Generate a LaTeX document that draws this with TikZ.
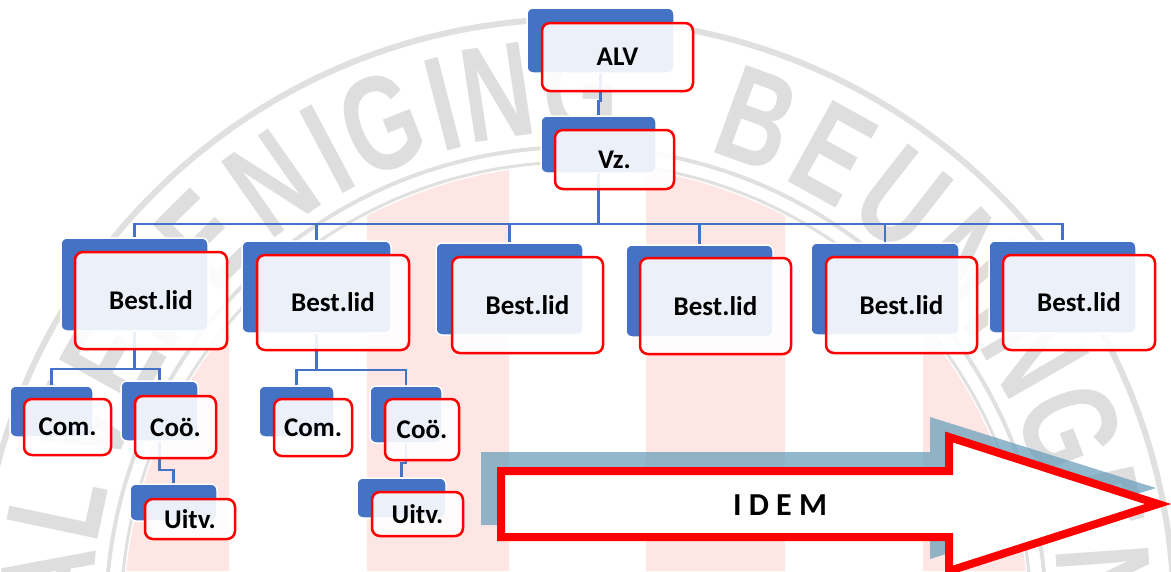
\documentclass[tikz,border=0pt]{standalone}
\usepackage{fontspec}
\setmainfont{Carlito}
\newfontfamily\wmfont[FakeStretch=0.72]{Liberation Sans}
\usetikzlibrary{fit}
\definecolor{boxblue}{RGB}{68,114,196}
\definecolor{boxred}{RGB}{255,0,0}
\definecolor{wmgray}{RGB}{222,222,222}
\definecolor{ringgray}{RGB}{224,224,224}
\definecolor{wmpink}{RGB}{253,230,228}
\definecolor{shadowblue}{RGB}{100,155,185}
\pgfdeclarelayer{wm}
\pgfdeclarelayer{bg}
\pgfsetlayers{wm,bg,main}
\tikzset{
  bluebox/.style={draw=white, line width=1.5pt, fill=boxblue, rounded corners=6pt, inner sep=0pt},
  redbox/.style={draw=boxred, line width=2.5pt, fill=white, fill opacity=0.9,
    rounded corners=8pt, inner sep=0pt},
  labeltext/.style={inner sep=0pt, text=black, anchor=center, font=\bfseries\fontsize{27}{30}\selectfont},
  conn/.style={draw=boxblue, line width=2.5pt},
  wmletter/.style={text=wmgray, font=\wmfont\bfseries\fontsize{135}{135}\selectfont, inner sep=0pt, anchor=center},
  idemtext/.style={font=\bfseries\fontsize{32}{36}\selectfont, text=black},
}
\newcommand\orgunit[4]{%
  \node[bluebox, fit={#2}] (#1-b) {};
  \node[redbox, fit={#3}] (#1) {};
  \node[labeltext] (#1-t) at (#1.center) {#4};
}
\begin{document}
\begin{tikzpicture}[x=1pt,y=-1pt]
\useasboundingbox (0,0) rectangle (1171,571);

% ---------- watermark ----------
\begin{pgfonlayer}{wm}
\fill[white] (0,0) rectangle (1171,571);
\begin{scope}
  \clip (0,0) rectangle (1171,571);
  \begin{scope}
    \clip (576,617) circle[radius=452pt];
    \fill[wmpink] (89,0) rectangle (229,571) (367,0) rectangle (509,571)
                  (646,0) rectangle (785,571) (923,0) rectangle (1063,571);
  \end{scope}
  \draw[ringgray, line width=3pt] (576,617) circle[radius=455pt];
  \draw[ringgray, line width=4pt] (576,617) circle[radius=470pt];
  \draw[ringgray, line width=6pt] (576,617) circle[radius=598pt];
  \foreach \a/\l [count=\i] in {176/A,168/L,159/V,151/E,143/R,134.6/E,125/N,118/I,111.5/G,104.5/I,98.5/N,89.5/G,
                    70/B,61/E,52/U,42.5/N,36/I,30/N,21/G,12.5/E,4/N}
    \node[wmletter, rotate=\a-90] (wm\i) at ([shift={(-\a:530)}]576,617) {\l};
\end{scope}
\end{pgfonlayer}

% ---------- units ----------
\orgunit{alv}{(527,8)(674,73)}{(542,23)(693,91)}{ALV}
\orgunit{vz}{(541,116)(656,173)}{(555,130)(674,189)}{Vz.}
\orgunit{b1}{(61,238)(208,331)}{(75,252)(227,349)}{Best.lid}
\orgunit{b2}{(242,241)(391,333)}{(257,255)(409,350)}{Best.lid}
\orgunit{b3}{(436,243)(583,335)}{(452,257)(603,353)}{Best.lid}
\orgunit{b4}{(626,245)(773,337)}{(640,258)(791,354)}{Best.lid}
\orgunit{b5}{(811,243)(959,335)}{(826,257)(977,353)}{Best.lid}
\orgunit{b6}{(989,241)(1136,333)}{(1003,255)(1155,350)}{Best.lid}
\orgunit{com1}{(10,386)(93,437)}{(24,399)(111,455)}{Com.}
\orgunit{coo1}{(121,381)(198,441)}{(135,396)(216,458)}{Coö.}
\orgunit{uitv1}{(130,484)(217,521)}{(145,499)(235,539)}{Uitv.}
\orgunit{com2}{(259,386)(334,437)}{(274,399)(352,456)}{Com.}
\orgunit{coo2}{(370,386)(442,443)}{(385,399)(459,460)}{Coö.}
\orgunit{uitv2}{(357,478)(446,518)}{(372,492)(463,536)}{Uitv.}

% ---------- connectors ----------
\begin{pgfonlayer}{bg}
  \draw[conn] (alv-b.south) -- ++(0,27) -| (vz-b.north);
  \coordinate (busA) at (0,224);
  \foreach \c in {b1,b2,b3,b4,b5,b6}
    \draw[conn] (vz-b.south) -- (vz-b.south |- busA) -| (\c-b.north);
  \coordinate (busB) at (0,369);
  \foreach \c in {com1,coo1}
    \draw[conn] (b1-b.south) -- (b1-b.south |- busB) -| (\c-b.north);
  \coordinate (busC) at (0,370);
  \foreach \c in {com2,coo2}
    \draw[conn] (b2-b.south) -- (b2-b.south |- busC) -| (\c-b.north);
  \coordinate (busD) at (0,470);
  \draw[conn] (coo1-b.south) -- (coo1-b.south |- busD) -| (uitv1-b.north);
  \coordinate (busE) at (0,463);
  \draw[conn] (coo2-b.south) -- (coo2-b.south |- busE) -| (uitv2-b.north);
\end{pgfonlayer}

% ---------- IDEM arrow ----------
\fill[shadowblue, opacity=0.7] (481,452) -- (930,452) -- (930,417) -- (1156,488)
   -- (930,559) -- (930,525) -- (481,525) -- cycle;
\draw[boxred, line width=8pt, fill=white, miter limit=10] (501,471) -- (949,471) -- (949,437)
   -- (1158,504) -- (949,571) -- (949,537) -- (501,537) -- cycle;
\node[idemtext] (idem) at (780,505) {I D E M};
\end{tikzpicture}
\end{document}
